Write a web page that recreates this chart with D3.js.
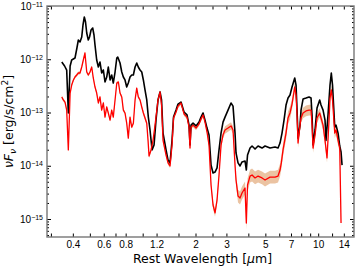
<!DOCTYPE html>
<meta charset="utf-8">
<style>
body { margin: 0; background: #fff; }
svg { display: block; font-family: "DejaVu Sans", sans-serif; }
.tick text { font-size: 10px; fill: #000; }
.tick line { stroke: #000; }
</style>
<body>
<svg width="357" height="266"></svg>
<script src="https://d3js.org/d3.v7.min.js"></script>
<script>

// wavelength [um], flux in units of 1e-15 erg/s/cm2
var blackSpec = [
  [0.346,888],[0.359,747],[0.369,628],[0.377,98],[0.386,747],[0.394,968],[0.4115,1056],[0.422,1627],
  [0.430,2299],[0.4395,2108],[0.4495,2617],[0.457,4398],[0.465,6217],[0.4725,5006],[0.480,3112],
  [0.490,2299],[0.498,2617],[0.508,3543],[0.519,3864],[0.528,2854],[0.535,1852],[0.547,968],
  [0.559,715],[0.571,888],[0.584,552],[0.597,628],[0.610,374],[0.624,464],[0.637,715],[0.652,408],
  [0.666,506],[0.680,358],[0.696,576],[0.712,1056],[0.721,1102],[0.743,850],[0.760,576],[0.776,464],
  [0.793,408],[0.811,301],[0.828,358],[0.847,464],[0.866,506],[0.885,506],[0.905,715],[0.925,850],
  [0.944,715],[0.966,628],[0.988,576],[1.009,408],[1.031,265],[1.055,172],[1.077,82],[1.101,47],
  [1.131,19.8],[1.161,24.5],[1.191,72],[1.223,172],[1.256,243],[1.281,172],[1.306,41],[1.359,19.8],
  [1.395,12.8],[1.432,11.3],[1.470,30],[1.499,82],[1.549,111],[1.590,144],[1.654,157],[1.720,102],
  [1.789,90],[1.837,58],[1.861,24.5],[1.886,58],[1.936,63],[2.014,56],[2.095,66],[2.150,82],
  [2.208,98],[2.266,72],[2.326,51],[2.388,38],[2.452,10.3],[2.517,7.3],[2.584,7.6],[2.653,9.1],
  [2.723,19.8],[2.796,41],[2.870,66],[2.946,82],[3.064,111],[3.187,151],[3.272,132],[3.359,41],
  [3.403,17.4],[3.494,11.3],[3.587,9.9],[3.682,11.8],[3.830,12.3],[3.896,8.3],[3.958,15.9],
  [4.091,21.5],[4.200,23.5],[4.368,20.6],[4.544,23.5],[4.787,21.5],[4.980,23.5],[5.317,21.5],
  [5.677,22.5],[5.905,21.5],[6.062,26.7],[6.223,41],[6.389,72],[6.559,138],[6.733,187],[6.912,213],
  [7.096,301],[7.352,445],[7.479,328],[7.578,111],[7.678,33],[7.882,58],[7.986,111],[8.199,179],
  [8.528,187],[8.870,196],[9.106,187],[9.226,90],[9.348,24.5],[9.596,47],[9.849,121],[10.20,172],
  [10.38,138],[10.66,111],[10.94,72],[11.08,30],[11.38,90],[11.68,328],[11.88,552],[12.07,328],
  [12.43,53],[12.64,58],[12.98,41],[13.27,23.5],[13.50,18.1],[13.68,10.3]
];

// wavelength [um], flux (1e-15 erg/s/cm2), 1-sigma width [dex]
var redSpec = [
  [0.346,196,0.03],[0.353,172,0.03],[0.361,157,0.03],[0.369,111,0.03],[0.377,19.8,0.04],[0.386,232,0.03],
  [0.394,328,0.03],[0.403,408,0.03],[0.4115,464,0.03],[0.421,506,0.03],[0.430,552,0.03],[0.4395,552,0.03],
  [0.4495,715,0.03],[0.459,968,0.03],[0.469,1310,0.03],[0.480,576,0.03],[0.490,506,0.03],[0.501,576,0.03],
  [0.5125,715,0.03],[0.523,445,0.03],[0.535,301,0.03],[0.547,232,0.03],[0.559,151,0.03],[0.571,196,0.03],
  [0.584,111,0.03],[0.597,151,0.03],[0.610,82,0.03],[0.624,127,0.03],[0.637,98,0.03],[0.652,72,0.03],
  [0.666,111,0.03],[0.680,82,0.03],[0.696,172,0.03],[0.712,358,0.03],[0.727,374,0.03],[0.743,232,0.03],
  [0.760,196,0.03],[0.776,111,0.03],[0.793,98,0.03],[0.811,63,0.03],[0.828,33,0.03],[0.847,82,0.03],
  [0.866,53,0.03],[0.885,63,0.03],[0.905,172,0.03],[0.925,288,0.03],[0.944,196,0.03],[0.966,172,0.03],
  [0.988,127,0.03],[1.009,98,0.04],[1.031,79,0.04],[1.055,63,0.04],[1.073,30,0.04],[1.087,15.2,0.04],
  [1.116,19.8,0.04],[1.146,30,0.04],[1.176,58,0.04],[1.223,172,0.04],[1.256,243,0.04],[1.281,138,0.04],
  [1.306,30,0.04],[1.359,15.9,0.04],[1.395,11.3,0.04],[1.432,9.9,0.04],[1.470,24.5,0.04],[1.499,79,0.04],
  [1.549,102,0.04],[1.590,132,0.04],[1.654,151,0.04],[1.720,94,0.04],[1.789,82,0.04],[1.837,53,0.04],
  [1.861,21.5,0.04],[1.886,53,0.04],[1.936,58,0.04],[2.014,51,0.04],[2.095,61,0.04],[2.150,75,0.04],
  [2.208,90,0.04],[2.266,66,0.04],[2.326,43,0.04],[2.388,24.5,0.05],[2.452,4.35,0.07],[2.517,1.83,0.07],
  [2.584,1.30,0.07],[2.653,2.27,0.07],[2.723,6.7,0.07],[2.796,24.5,0.07],[2.870,38,0.07],[2.946,47,0.07],
  [3.064,51,0.07],[3.187,56,0.07],[3.272,47,0.07],[3.359,10.3,0.08],[3.403,5.4,0.1],[3.494,2.70,0.12],
  [3.587,2.48,0.12],[3.682,3.08,0.12],[3.830,3.82,0.12],[3.896,0.84,0.12],[3.958,4.35,0.12],[4.091,6.4,0.12],
  [4.200,6.7,0.12],[4.368,5.9,0.12],[4.544,6.4,0.12],[4.787,5.9,0.12],[4.980,5.4,0.12],[5.317,6.1,0.12],
  [5.677,6.1,0.12],[5.905,6.4,0.12],[6.062,8.3,0.12],[6.166,11.3,0.12],[6.306,19.8,0.12],[6.559,41,0.12],
  [6.733,79,0.12],[6.912,98,0.12],[7.096,144,0.1],[7.352,301,0.09],[7.479,213,0.09],[7.578,90,0.09],
  [7.678,26.7,0.09],[7.882,58,0.09],[7.986,79,0.09],[8.199,98,0.1],[8.528,107,0.1],[8.870,111,0.1],
  [9.106,111,0.1],[9.226,58,0.09],[9.348,21.5,0.09],[9.596,38,0.09],[9.849,79,0.09],[10.20,98,0.09],
  [10.38,79,0.09],[10.66,58,0.09],[10.94,30,0.09],[11.23,14.0,0.09],[11.53,72,0.09],[11.68,187,0.09],
  [11.88,265,0.09],[12.07,172,0.09],[12.43,41,0.09],[12.64,47,0.09],[12.98,30,0.09],[13.27,21.5,0.09],
  [13.50,0.84,0.1]
];

var fluxUnit = 1e-15;
var xTicks = [0.3, 0.4, 0.5, 0.6, 0.7, 0.8, 1.0, 1.2, 1.6, 2, 2.5, 3, 4, 5, 6, 7, 8, 9, 10, 12, 14];
var xLabels = [0.4, 0.6, 0.8, 1.2, 2, 3, 5, 7, 10, 14];
var yExponents = [-15, -14, -13, -12, -11];

var frame = {left: 47, right: 354, top: 6, bottom: 237};

var svg = d3.select("svg");

var x = d3.scaleLog().domain([0.285, 16]).range([frame.left, frame.right]);
var y = d3.scaleLog().domain([Math.pow(10, -15.338), 1e-11]).range([frame.bottom, frame.top]);

var yMajor = yExponents.map(function(e) { return Math.pow(10, e); });
var yMinor = [];
for (var e = -16; e <= -12; e++) {
    for (var m = 2; m <= 9; m++) {
        var v = m * Math.pow(10, e);
        if (v >= y.domain()[0] && v <= y.domain()[1]) yMinor.push(v);
    }
}

svg.append("clipPath").attr("id", "clip")
  .append("rect")
    .attr("x", frame.left).attr("y", frame.top)
    .attr("width", frame.right - frame.left).attr("height", frame.bottom - frame.top);

var plot = svg.append("g").attr("clip-path", "url(#clip)");

var band = d3.area()
    .x(function(d) { return x(d[0]); })
    .y0(function(d) { return y(d[1] * fluxUnit / Math.pow(10, d[2])); })
    .y1(function(d) { return y(d[1] * fluxUnit * Math.pow(10, d[2])); });

var line = d3.line()
    .x(function(d) { return x(d[0]); })
    .y(function(d) { return y(d[1] * fluxUnit); });

plot.append("path")
    .datum(redSpec)
    .attr("d", band)
    .attr("fill", "#ebc3a2");

plot.append("path")
    .datum(blackSpec)
    .attr("d", line)
    .attr("fill", "none")
    .attr("stroke", "#000")
    .attr("stroke-width", 1.6)
    .attr("stroke-linejoin", "round");

plot.append("path")
    .datum(redSpec)
    .attr("d", line)
    .attr("fill", "none")
    .attr("stroke", "#ff0000")
    .attr("stroke-width", 1.3)
    .attr("stroke-linejoin", "round");

// axes, ticks pointing inwards
var xBottom = d3.axisBottom(x)
    .tickValues(xTicks)
    .tickSize(-3.5)
    .tickPadding(4)
    .tickFormat(function(d) { return xLabels.indexOf(d) >= 0 ? String(d) : ""; });

svg.append("g")
    .attr("transform", "translate(0," + frame.bottom + ")")
    .call(xBottom);

svg.append("g")
    .attr("transform", "translate(0," + frame.top + ")")
    .call(d3.axisTop(x).tickValues(xTicks).tickSize(-3.5).tickFormat(""));

var yLeft = svg.append("g")
    .attr("transform", "translate(" + frame.left + ",0)")
    .call(d3.axisLeft(y).tickValues(yMajor).tickSize(-4).tickPadding(4));

yLeft.selectAll(".tick text").each(function(d, i) {
    var t = d3.select(this).text("");
    t.append("tspan").text("10");
    t.append("tspan")
        .attr("dy", "-0.45em")
        .attr("font-size", "7px")
        .text("\u2212" + String(-yExponents[i]));
});

svg.append("g")
    .attr("transform", "translate(" + frame.left + ",0)")
    .call(d3.axisLeft(y).tickValues(yMinor).tickSize(-2).tickFormat(""));

svg.append("g")
    .attr("transform", "translate(" + frame.right + ",0)")
    .call(d3.axisRight(y).tickValues(yMajor).tickSize(-4).tickFormat(""));

svg.append("g")
    .attr("transform", "translate(" + frame.right + ",0)")
    .call(d3.axisRight(y).tickValues(yMinor).tickSize(-2).tickFormat(""));

svg.selectAll(".domain").remove();

svg.append("rect")
    .attr("x", frame.left).attr("y", frame.top)
    .attr("width", frame.right - frame.left).attr("height", frame.bottom - frame.top)
    .attr("fill", "none")
    .attr("stroke", "#777")
    .attr("stroke-width", 1.4);

// axis labels
var xl = svg.append("text")
    .attr("x", (frame.left + frame.right) / 2 + 2)
    .attr("y", 263)
    .attr("text-anchor", "middle")
    .attr("font-size", "12.5px");
xl.append("tspan").text("Rest Wavelength [");
xl.append("tspan").attr("font-style", "italic").text("\u03bc");
xl.append("tspan").text("m]");

var yl = svg.append("text")
    .attr("transform", "translate(13," + ((frame.top + frame.bottom) / 2) + ") rotate(-90)")
    .attr("text-anchor", "middle")
    .attr("font-size", "12.5px");
yl.append("tspan").attr("font-style", "italic").text("\u03bdF");
yl.append("tspan").attr("font-style", "italic").attr("font-size", "9px").attr("dy", "3").text("\u03bd");
yl.append("tspan").attr("dy", "-3").text(" [erg/s/cm");
yl.append("tspan").attr("font-size", "9px").attr("dy", "-5").text("2");
yl.append("tspan").attr("dy", "5").text("]");

</script>
</body>
</html>
